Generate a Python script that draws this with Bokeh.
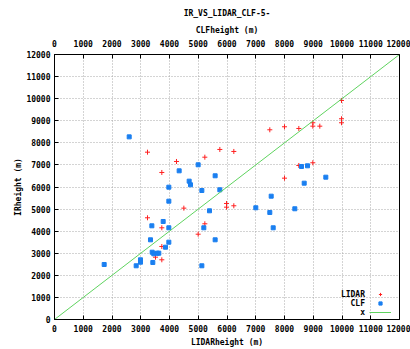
from bokeh.plotting import figure
from bokeh.models import (LinearAxis, Range1d, SingleIntervalTicker, Legend,
                          LegendItem, Label)
from bokeh.core.properties import value
from bokeh.embed import file_html
from bokeh.resources import INLINE

# ---------------- data ----------------
title_text = "IR_VS_LIDAR_CLF-5-"
x_label = "LIDARheight (m)"
x2_label = "CLFheight (m)"
y_label = "IRheight (m)"
series_names = ["LIDAR", "CLF", "x"]

lidar_x = [3235, 4243, 5229, 5751, 6237, 3733, 4499, 5983, 5983, 6237,
           3235, 3733, 5229, 4997, 3733, 3513, 3733, 9983, 9983, 9983,
           8985, 8985, 9228, 8498, 8000, 7489, 8498, 8985, 8000]
lidar_y = [7577, 7156, 7350, 7700, 7609, 6658, 5042, 5254, 5087, 5150,
           4606, 4153, 4334, 3863, 3306, 2822, 2704, 9918, 9090, 8909,
           8909, 8755, 8755, 8650, 8727, 8591, 6975, 7097, 6400]

clf_x = [2598, 4336, 4997, 5588, 4684, 4730, 3977, 5125, 5751, 3977,
         5391, 3780, 3386, 3977, 5194, 5588, 3339, 3977, 3861, 3398,
         3454, 3572, 3628, 2991, 2991, 2841, 3420, 1728, 5125, 8591,
         8800, 8685, 9437, 7537, 7002, 7489, 8359, 7607]
clf_y = [8270, 6733, 7006, 6508, 6264, 6100, 5992, 5842, 5873, 5358,
         4922, 4438, 4243, 4153, 4153, 3609, 3609, 3501, 3274, 3048,
         2975, 3003, 3003, 2704, 2595, 2432, 2582, 2491, 2432, 6929,
         6960, 6173, 6445, 5584, 5059, 4846, 5014, 4153]

# y = x reference line
diag_x = [0, 12000]
diag_y = [0, 12000]

axis_min, axis_max, tick_step = 0, 12000, 1000

# ---------------- style ----------------
FONT = "DejaVu Sans Mono"
FS = "8px"
RED = "#ff2020"
BLUE = "#1a7ff0"
GREEN = "#5fd35f"

p = figure(width=410, height=349, output_backend="svg", toolbar_location=None,
           x_range=Range1d(axis_min, axis_max), y_range=Range1d(axis_min, axis_max),
           min_border_left=54, min_border_right=11, min_border_top=54,
           min_border_bottom=30, title=title_text,
           background_fill_color="white", border_fill_color="white")

p.title.text_font = FONT
p.title.text_font_size = FS
p.title.text_font_style = "bold"
p.title.align = "center"
p.title.standoff = 10
p.title.text_color = "black"

bottom_axis = p.xaxis[0]
left_axis = p.yaxis[0]
bottom_axis.axis_label = x_label
left_axis.axis_label = y_label

top_axis = LinearAxis(axis_label=x2_label)
p.add_layout(top_axis, "above")

ticker = SingleIntervalTicker(interval=tick_step)
for ax in (bottom_axis, left_axis, top_axis):
    ax.ticker = ticker
    ax.major_tick_in = 4
    ax.major_tick_out = 0
    ax.minor_tick_in = 0
    ax.minor_tick_out = 0
    ax.axis_line_color = "black"
    ax.major_tick_line_color = "black"
    ax.major_label_text_font = FONT
    ax.major_label_text_font_size = FS
    ax.major_label_text_font_style = "bold"
    ax.major_label_text_color = "black"
    ax.axis_label_text_font = FONT
    ax.axis_label_text_font_size = FS
    ax.axis_label_text_font_style = "bold"
    ax.axis_label_text_color = "black"

bottom_axis.major_label_standoff = 5
bottom_axis.axis_label_standoff = 3
top_axis.major_label_standoff = 8
top_axis.axis_label_standoff = 2
left_axis.major_label_standoff = 4
left_axis.axis_label_standoff = 0

for g in (p.xgrid[0], p.ygrid[0]):
    g.ticker = ticker
    g.grid_line_color = "#a8a8a8"
    g.grid_line_dash = "1 2"
    g.grid_line_width = 1

p.outline_line_color = "black"

r_lidar = p.scatter(lidar_x, lidar_y, marker="cross", size=5,
                    line_color=RED, line_width=1)
r_clf = p.scatter(clf_x, clf_y, marker="square", size=4,
                  fill_color=BLUE, line_color=BLUE, line_width=1)
r_x = p.line(diag_x, diag_y, line_color=GREEN, line_width=1)

legend = Legend(items=[LegendItem(label=value(""), renderers=[r]) for r in (r_lidar, r_clf, r_x)],
                location=(315, 3), orientation="vertical",
                glyph_width=22, glyph_height=8, label_width=0, label_height=8,
                label_standoff=0, spacing=1, padding=0, margin=0,
                background_fill_alpha=0, border_line_alpha=0,
                label_text_font_size="1px")
p.add_layout(legend)

# legend texts (right aligned, left of the samples)
leg_text_x = 10800
leg_text_y = [1130, 720, 310]
for name, yy in zip(series_names, leg_text_y):
    p.add_layout(Label(x=leg_text_x, y=yy, text=name, text_align="right",
                       text_baseline="middle", text_font=FONT, text_font_size=FS,
                       text_font_style="bold", text_color="black"))

open("out.html", "w").write(file_html(p, INLINE))
